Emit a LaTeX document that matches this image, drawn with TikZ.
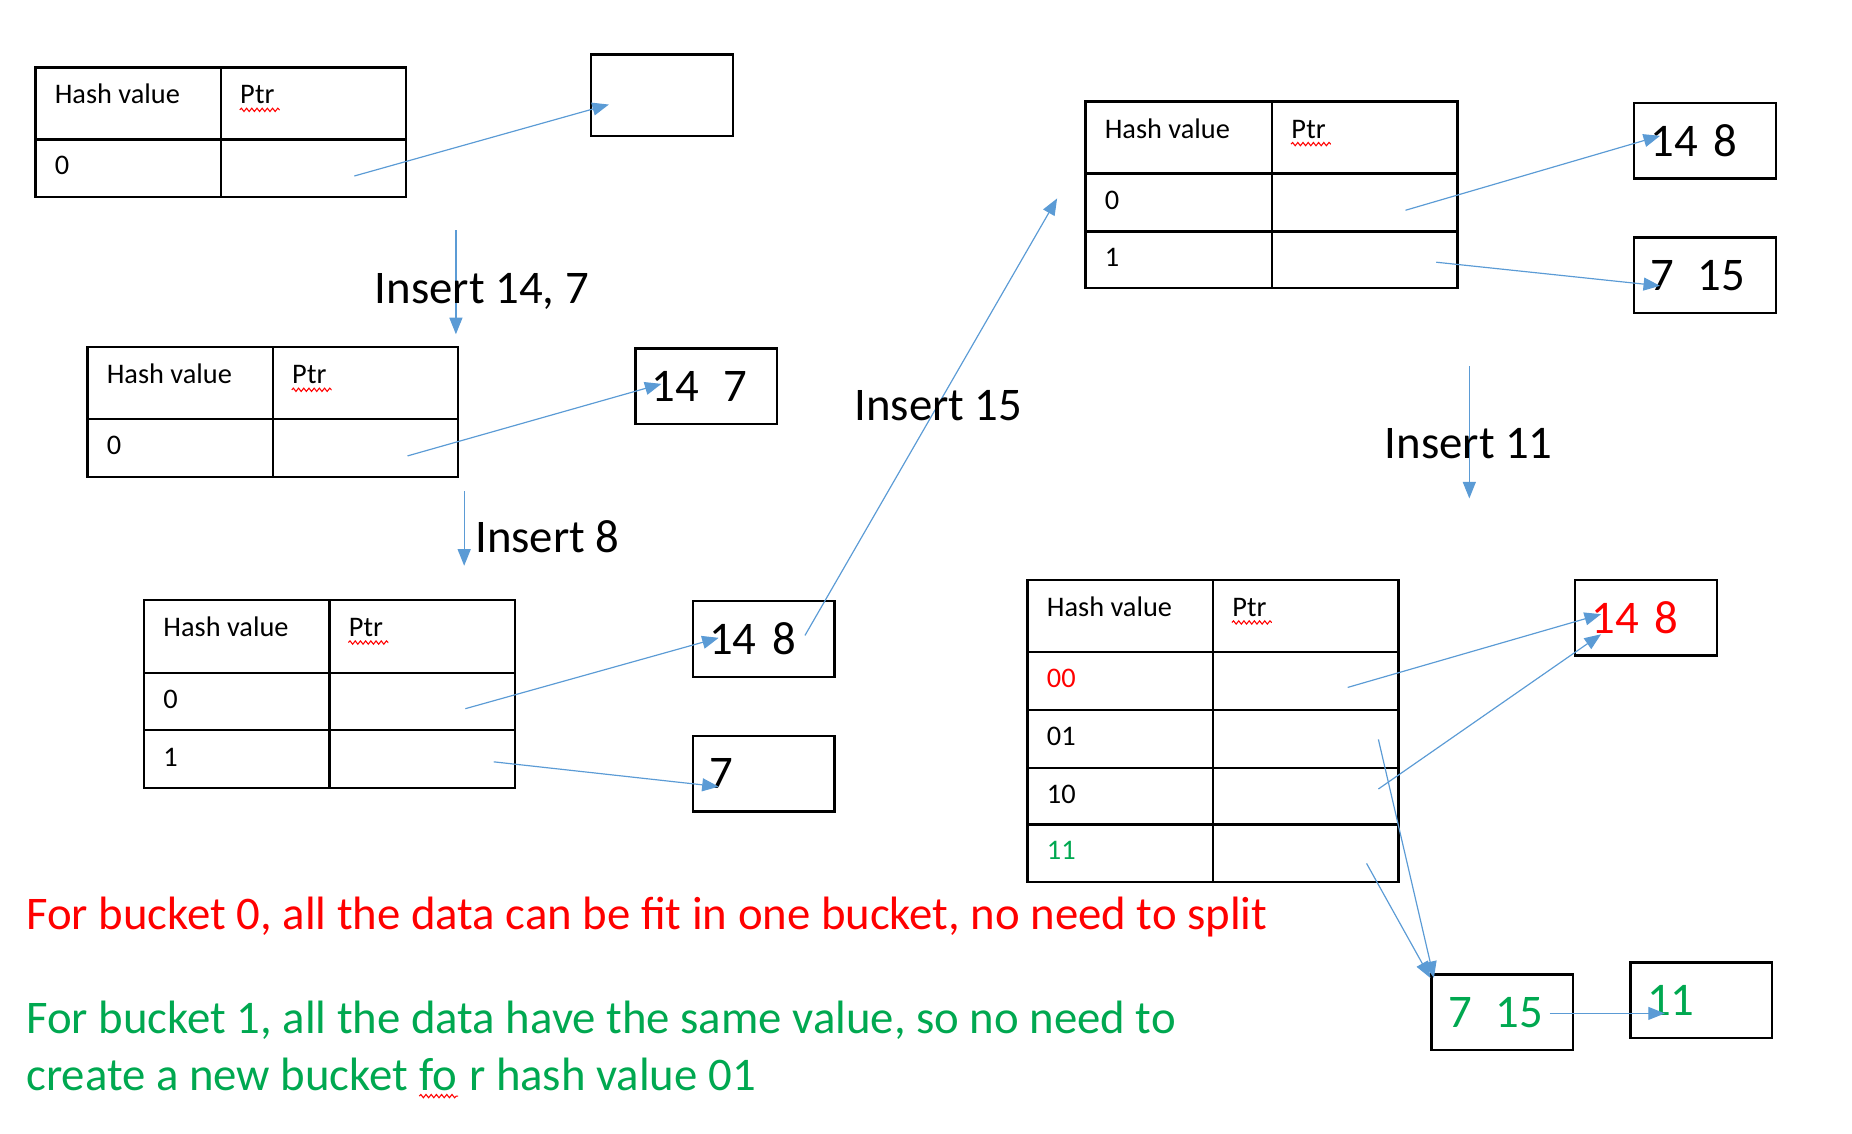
\documentclass[tikz,border=0pt]{standalone}
\usepackage{fontspec}
\setmainfont{Carlito}
\usetikzlibrary{arrows.meta,decorations.pathmorphing}

\definecolor{ptrblue}{RGB}{91,155,213}
\definecolor{splitred}{RGB}{255,0,0}
\definecolor{samegreen}{RGB}{0,168,80}

\tikzset{
  tblline/.style={line width=1pt},
  cell/.style={anchor=base west, inner sep=0pt, font=\fontsize{12}{14}\selectfont},
  bucket/.style={draw, line width=1pt, minimum width=60pt, minimum height=32pt,
    inner xsep=7pt, text width=46pt, align=left, font=\fontsize{19.8}{22}\selectfont},
  insertlbl/.style={anchor=base west, inner sep=0pt, font=\fontsize{19.8}{22}\selectfont},
  note/.style={anchor=base west, inner sep=0pt, font=\fontsize{19.8}{22}\selectfont},
  ptrarrow/.style={draw=ptrblue, line width=0.5pt, -{Triangle[length=7pt,width=5.5pt]}},
  squig/.style={draw=splitred, line width=0.45pt, decorate,
    decoration={snake, segment length=2.2pt, amplitude=0.7pt}}
}

\begin{document}
\begin{tikzpicture}[x=0.5pt,y=-0.5pt]
\useasboundingbox (0,0) rectangle (1568,960);

% table 1 (one bucket, empty)
\draw[tblline] (30,57) rectangle (344,167);
\draw[tblline] (187,57) -- (187,167) (30,118) -- (344,118);
\node[cell] (t1h) at (46,88) {Hash value};
\node[cell] (t1p) at (203,88) {Ptr};
\node[cell] (t1r0) at (46,148) {0};
\node[bucket, minimum height=34.5pt] (bk1) at (560.5,80.5) {};
\coordinate (t1r0p) at (300,149);
\coordinate (bk1in) at ([shift={(16,8)}]bk1.west);
\draw[ptrarrow] (t1r0p) -- (bk1in);

% insert 14, 7
\coordinate (d1s) at (386,195);
\coordinate (d1e) at (386,283);
\draw[ptrarrow] (d1s) -- (d1e);
\node[insertlbl] (ins1) at (317,257) {Insert 14, 7};

% table 2
\draw[tblline] (74,294) rectangle (388,404);
\draw[tblline] (231,294) -- (231,404) (74,355) -- (388,355);
\node[cell] (t2h) at (90,325) {Hash value};
\node[cell] (t2p) at (247,325) {Ptr};
\node[cell] (t2r0) at (90,385) {0};
\node[bucket] (bk2) at (598,327) {14\hspace{10pt}7};
\coordinate (t2r0p) at (345,386);
\coordinate (bk2in) at ([shift={(23,-2)}]bk2.west);
\draw[ptrarrow] (t2r0p) -- (bk2in);

% insert 8
\coordinate (d2s) at (393,416);
\coordinate (d2e) at (393,479);
\draw[ptrarrow] (d2s) -- (d2e);
\node[insertlbl] (ins2) at (402,468) {Insert 8};

% table 3
\draw[tblline] (122,508) rectangle (436,667);
\draw[tblline] (279,508) -- (279,667) (122,570) -- (436,570) (122,618) -- (436,618);
\node[cell] (t3h) at (138,539) {Hash value};
\node[cell] (t3p) at (295,539) {Ptr};
\node[cell] (t3r0) at (138,600) {0};
\node[cell] (t3r1) at (138,649) {1};
\node[bucket] (bk3) at (646.5,541) {14 8};
\node[bucket] (bk4) at (646.5,655) {7};
\coordinate (t3r0p) at (394,600);
\coordinate (t3r1p) at (418,645);
\coordinate (bk3in) at ([shift={(23,-1)}]bk3.west);
\coordinate (bk4in) at ([shift={(23,11)}]bk4.west);
\draw[ptrarrow] (t3r0p) -- (bk3in);
\draw[ptrarrow] (t3r1p) -- (bk4in);

% insert 15
\coordinate (u1s) at ([shift={(35,-3)}]bk3.center);
\coordinate (u1e) at (895,168);
\draw[ptrarrow] (u1s) -- (u1e);
\node[insertlbl] (ins3) at (723,356) {Insert 15};

% table 4
\draw[tblline] (919,86) rectangle (1234,244);
\draw[tblline] (1077,86) -- (1077,244) (919,147) -- (1234,147) (919,196) -- (1234,196);
\node[cell] (t4h) at (935,117) {Hash value};
\node[cell] (t4p) at (1093,117) {Ptr};
\node[cell] (t4r0) at (935,177) {0};
\node[cell] (t4r1) at (935,226) {1};
\node[bucket] (bk5) at (1443.5,119) {14 8};
\node[bucket] (bk6) at (1443.5,233) {7\hspace{10pt}15};
\coordinate (t4r0p) at (1190,178);
\coordinate (t4r1p) at (1216,222);
\coordinate (bk5in) at ([shift={(23,-4)}]bk5.west);
\coordinate (bk6in) at ([shift={(23,9)}]bk6.west);
\draw[ptrarrow] (t4r0p) -- (bk5in);
\draw[ptrarrow] (t4r1p) -- (bk6in);

% insert 11
\coordinate (d3s) at (1244,310);
\coordinate (d3e) at (1244,422);
\draw[ptrarrow] (d3s) -- (d3e);
\node[insertlbl] (ins4) at (1172,388) {Insert 11};

% table 5 (directory doubled)
\draw[tblline] (870,491) rectangle (1184,747);
\draw[tblline] (1027,491) -- (1027,747);
\foreach \yy in {552,601,650,698}
  \draw[tblline] (870,\yy) -- (1184,\yy);
\node[cell] (t5h) at (886,522) {Hash value};
\node[cell] (t5p) at (1043,522) {Ptr};
\node[cell, text=splitred] (t5r00) at (886,582) {00};
\node[cell] (t5r01) at (886,631) {01};
\node[cell] (t5r10) at (886,680) {10};
\node[cell, text=samegreen] (t5r11) at (886,728) {11};
\node[bucket, text=splitred] (bk7) at (1393.5,523) {14 8};
\node[bucket, text=samegreen] (bk8) at (1272,857) {7\hspace{10pt}15};
\node[bucket, text=samegreen] (bk9) at (1440.5,847) {11};
\coordinate (t5r00p) at (1141,582);
\coordinate (t5r01p) at (1167,626);
\coordinate (t5r10p) at (1167,668);
\coordinate (t5r11p) at (1157,731);
\coordinate (bk7in) at ([shift={(23,-3)}]bk7.west);
\coordinate (bk7low) at ([shift={(23,14)}]bk7.west);
\coordinate (bk8in) at ([shift={(3,-29)}]bk8.west);
\coordinate (bk8top) at ([shift={(0,-29)}]bk8.west);
\coordinate (bk8out) at ([shift={(40,1)}]bk8.center);
\coordinate (bk9in) at ([shift={(30,11)}]bk9.west);
\draw[ptrarrow] (t5r00p) -- (bk7in);
\draw[ptrarrow] (t5r10p) -- (bk7low);
\draw[ptrarrow] (t5r01p) -- (bk8in);
\draw[ptrarrow] (t5r11p) -- (bk8top);
\draw[ptrarrow] (bk8out) -- (bk9in);

% spelling marks under Ptr
\foreach \pp in {t1p,t2p,t3p,t4p,t5p}
  \draw[squig] ([yshift=-2.5pt]\pp.base west) -- ([shift={(2pt,-2.5pt)}]\pp.base east);

% notes
\node[note, text=splitred] (n1) at (22,787)
  {For bucket 0, all the data can be fit in one bucket, no need to split};
\node[note, text=samegreen] (n2) at (22,875)
  {For bucket 1, all the data have the same value, so no need to};
\node[note, text=samegreen] (n3a) at (22,923) {create a new bucket};
\node[note, text=samegreen] (n3b) at ([xshift=4.47pt]n3a.base east) {fo};
\node[note, text=samegreen] (n3c) at ([xshift=4.47pt]n3b.base east) {r hash value 01};
\draw[squig] ([yshift=-2.5pt]n3b.base west) -- ([yshift=-2.5pt]n3b.base east);
\end{tikzpicture}
\end{document}
